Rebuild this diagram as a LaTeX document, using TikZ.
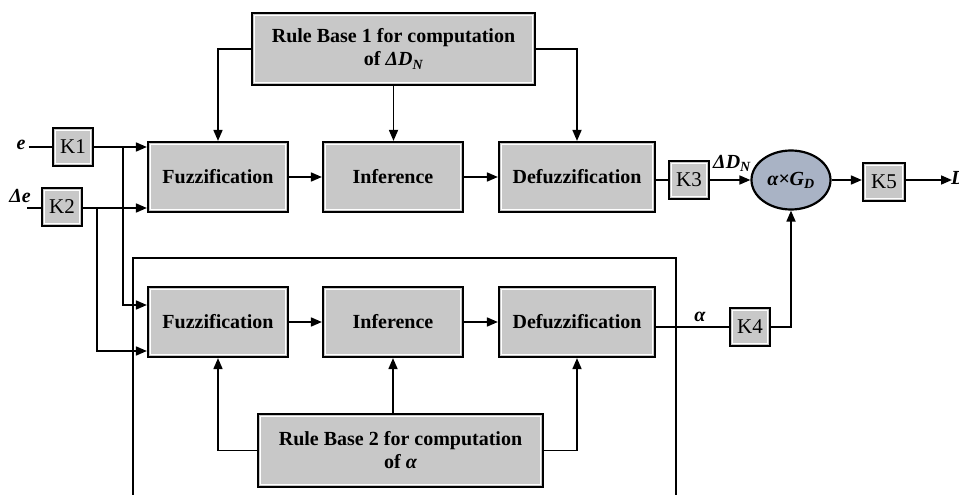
\documentclass[tikz,border=0pt]{standalone}
\usepackage{fontspec}
\setmainfont{Liberation Serif}
\usepackage{tikz}
\usetikzlibrary{arrows.meta,shapes.geometric,calc}

\definecolor{boxgray}{HTML}{C8C8C8}
\definecolor{ellfill}{HTML}{A9B3C5}

\tikzset{
  block/.style={draw=black, line width=2.2pt, fill=boxgray, minimum height=70pt,
    inner sep=0pt, align=center, font=\fontsize{20}{23}\selectfont\bfseries,
    path picture={\draw[white, line width=1pt]
      ([shift={(2.6pt,-2.6pt)}]path picture bounding box.north west) rectangle
      ([shift={(-2.6pt,2.6pt)}]path picture bounding box.south east);}},
  gain/.style={block, minimum width=40pt, minimum height=38pt,
    font=\fontsize{21}{22}\selectfont},
  link/.style={line width=1.7pt},
  flow/.style={link, -{Triangle[length=11pt,width=9pt]}},
  lbl/.style={font=\fontsize{20}{22}\selectfont\bfseries\itshape, inner sep=0pt}
}

\begin{document}
\begin{tikzpicture}[x=1pt, y=-1pt]
  \useasboundingbox (0,0) rectangle (959,495);

  \node[block, minimum width=283pt, minimum height=72pt] (rbone) at (393.5,49)
    {Rule Base 1 for computation\\ of {\itshape ΔD\textsubscript{N}}};
  \node[block, minimum width=140pt] (fuzzA) at (218,177) {Fuzzification};
  \node[block, minimum width=140pt] (infA) at (393,177) {Inference};
  \node[block, minimum width=156pt] (defA) at (577,177) {Defuzzification};

  \node[block, minimum width=140pt] (fuzzB) at (218,322) {Fuzzification};
  \node[block, minimum width=140pt] (infB) at (393,322) {Inference};
  \node[block, minimum width=156pt] (defB) at (577,322) {Defuzzification};
  \node[block, minimum width=285pt, minimum height=73pt] (rbtwo) at (400.5,450.5)
    {Rule Base 2 for computation\\ of {\itshape α}};

  \node[gain] (k1) at (73,147) {K1};
  \node[gain] (k2) at (62,207) {K2};
  \node[gain] (k3) at (689,180) {K3};
  \node[gain] (k4) at (750,327) {K4};
  \node[gain, minimum width=42pt] (k5) at (884,182) {K5};
  \node[ellipse, draw, line width=2.2pt, fill=ellfill, minimum width=79pt,
    minimum height=59pt, lbl] (gd) at (791,180) {α×G\textsubscript{D}};

  \node[lbl] (e) at (21,145) {e};
  \node[lbl] (de) at (20,196) {Δe};
  \node[lbl] (dn) at (732,163) {ΔD\textsubscript{N}};
  \node[lbl] (al) at (700,317) {α};
  \node[lbl, anchor=west] (d) at (951,178) {D};
  \coordinate (dein) at (27,208);
  \coordinate (dout) at (952,180);
  \coordinate (tapA) at (123,147);
  \coordinate (tapB) at (97,208);

  % inputs
  \draw[link] ($(e.east |- k1.west)+(3,0)$) -- (k1.west);
  \draw[link] (dein) -- (k2.west |- dein);
  \draw[flow] (k1.east) -- (k1.east -| fuzzA.west);
  \draw[flow] (k2.east |- dein) -- (dein -| fuzzA.west);
  \draw[flow] (tapA) |- (fuzzB.west |- 0,305);
  \draw[flow] (tapB) |- (fuzzB.west |- 0,351);

  \draw[flow] (fuzzA) -- (infA);
  \draw[flow] (infA) -- (defA);
  \draw[flow] (fuzzB) -- (infB);
  \draw[flow] (infB) -- (defB);

  \draw[flow] (rbone.west) -| (fuzzA.north);
  \draw[flow] (rbone.south) -- (rbone.south |- infA.north);
  \draw[flow] (rbone.east) -| (defA.north);
  \draw[flow] (rbtwo.west) -| (fuzzB.south);
  \draw[flow] (rbtwo.north -| infB.south) -- (infB.south);
  \draw[flow] (rbtwo.east) -| (defB.south);

  % outputs
  \draw[link] (defA.east |- k3) -- (k3);
  \draw[flow] (k3) -- (gd);
  \draw[flow] (gd.east) -- (gd.east -| k5.west);
  \draw[flow] (k5.east |- dout) -- (dout);
  \draw[link] (defB.east |- k4) -- (k4);
  \draw[flow] (k4.east) -| (gd.south);

  \draw[link] (133,500) -- (133,258) -- (676,258) -- (676,500);
\end{tikzpicture}
\end{document}
